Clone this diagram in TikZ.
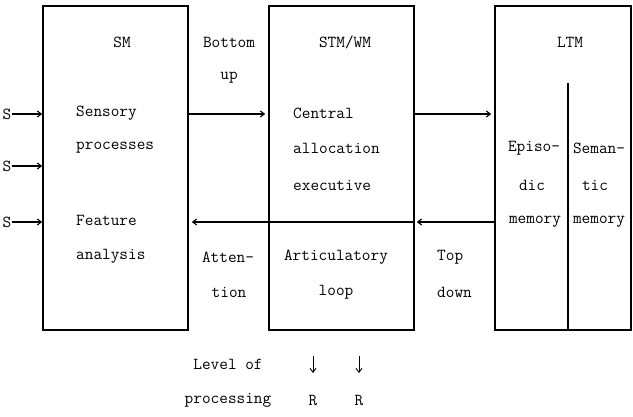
\documentclass[tikz,border=0pt]{standalone}
\usepackage{fontspec}
\usetikzlibrary{arrows.meta}
\tikzset{
  box/.style={draw, line width=1.6pt, inner sep=0pt},
  lbl/.style={font=\ttfamily\fontsize{16.8}{18}\selectfont, inner sep=0pt},
  arr/.style={line width=1.1pt, -{Straight Barb[length=4pt,width=6pt]}},
  divider/.style={line width=1.3pt},
}
\begin{document}
\begin{tikzpicture}[x=1pt,y=-1pt]
\useasboundingbox (0,0) rectangle (633,416);
% boxes
\node[box, minimum width=145pt, minimum height=324pt] (sm) at (115.5,168) {};
\node[box, minimum width=145pt, minimum height=324pt] (stm) at (341.5,168) {};
\node[box, minimum width=136pt, minimum height=324pt] (ltm) at (563,168) {};
% row coordinates
\coordinate (r1) at (0,114);
\coordinate (r2) at (0,166);
\coordinate (r3) at (0,222);
\coordinate (ltmdivtop) at (568,83);
\coordinate (ltmdivbot) at (568,330);
% titles
\node[lbl] (smt) at (122,42) {SM};
\node[lbl] (stmt) at (345,42) {STM/WM};
\node[lbl] (ltmt) at (570,42) {LTM};
% SM contents
\node[lbl, anchor=west] (sens) at (76,113) {Sensory};
\node[lbl, anchor=west] (proc) at (76,148) {processes};
\node[lbl, anchor=west] (feat) at (76,220) {Feature};
\node[lbl, anchor=west] (anal) at (76,256) {analysis};
% STM contents
\node[lbl, anchor=west] (cent) at (293,113) {Central};
\node[lbl, anchor=west] (alloc) at (293,148) {allocation};
\node[lbl, anchor=west] (exec) at (293,185) {executive};
\node[lbl] (artic) at (336,257) {Articulatory};
\node[lbl] (loop) at (336,292) {loop};
% LTM contents
\node[lbl] (epi1) at (534,148) {Episo-};
\node[lbl] (epi2) at (532,185) {dic};
\node[lbl] (epi3) at (535,222) {memory};
\node[lbl] (sem1) at (599,148) {Seman-};
\node[lbl] (sem2) at (595,185) {tic};
\node[lbl] (sem3) at (599,222) {memory};
% between-box labels
\node[lbl] (bot) at (229,42) {Bottom};
\node[lbl] (up) at (229,78) {up};
\node[lbl] (att1) at (228,257) {Atten-};
\node[lbl] (att2) at (229,292) {tion};
\node[lbl, anchor=west] (top) at (437,257) {Top};
\node[lbl, anchor=west] (down) at (437,292) {down};
% inputs
\node[lbl] (s1) at (7,114) {S};
\node[lbl] (s2) at (7,166) {S};
\node[lbl] (s3) at (7,222) {S};
\draw[arr] (s1.east) -- (sm.west |- s1);
\draw[arr] (s2.east) -- (sm.west |- s2);
\draw[arr] (s3.east) -- (sm.west |- s3);
% connectors
\draw[arr] (sm.east |- r1) -- ([xshift=-3pt]stm.west |- r1);
\draw[arr] (stm.east |- r1) -- ([xshift=-3pt]ltm.west |- r1);
\draw[divider] (stm.west |- r3) -- (stm.east |- r3);
\draw[arr] (stm.west |- r3) -- ([xshift=3pt]sm.east |- r3);
\draw[arr] (ltm.west |- r3) -- ([xshift=2pt]stm.east |- r3);
\draw[divider] (ltmdivtop) -- (ltmdivbot);
% level of processing
\node[lbl] (lev) at (228,364) {Level of};
\node[lbl] (procg) at (228,400) {processing};
\node[lbl] (R1) at (313,400) {R};
\node[lbl] (R2) at (359,400) {R};
\coordinate (d1) at (313,356);
\coordinate (d2) at (359,356);
\coordinate (e1) at (313,373);
\coordinate (e2) at (359,373);
\draw[arr, line width=0.9pt] (d1) -- (e1);
\draw[arr, line width=0.9pt] (d2) -- (e2);
\end{tikzpicture}
\end{document}
